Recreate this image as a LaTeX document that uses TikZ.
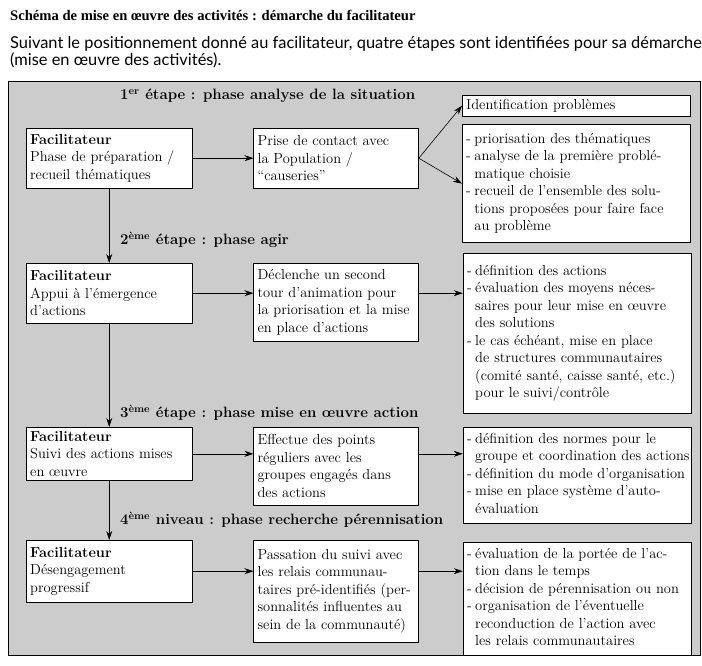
\documentclass[tikz,border=0pt]{standalone}
\usepackage{fontspec}
\newfontfamily\titlefont{Liberation Serif}
\newfontfamily\subfont{Lato}
\usetikzlibrary{positioning,arrows.meta,calc}

\newenvironment{tirets}{\begin{tabular}{@{}l@{\hspace{3.5pt}}l@{}}}{\end{tabular}}
\newcommand{\facil}{\textbf{Facilitateur}\\}

\begin{document}
\begin{tikzpicture}[
    x=1pt, y=1pt,
    every node/.style={font=\fontsize{14.5}{17.5}\selectfont},
    box/.style={rectangle, draw, thin, fill=white, anchor=north west, align=left, inner sep=4pt},
    facbox/.style={box, text width=158pt},
    midbox/.style={box, text width=157pt},
    listbox/.style={box, text width=220pt},
    stephead/.style={anchor=west, inner sep=0pt, font=\fontsize{15}{17}\selectfont\bfseries},
    arrow/.style={-{Stealth[length=9pt,width=6pt]}, semithick}
]
\useasboundingbox (0,0) rectangle (702,-666);

% Title
\node[anchor=base west, inner sep=0pt, font=\titlefont\bfseries\fontsize{14.6}{17}\selectfont] (titre) at (10,-21) {Schéma de mise en œuvre des activités : démarche du facilitateur};
\node[anchor=base west, inner sep=0pt, align=left, font=\subfont\fontsize{16.4}{17}\selectfont] (soustitre) at (10,-66) {Suivant le positionnement donné au facilitateur, quatre étapes sont identifiées pour sa démarche\\(mise en œuvre des activités).};

% Grey panel
\draw[fill=black!20] (8,-81) rectangle (700,-655);

% Facilitateur column
\node[facbox, minimum height=60pt] (fac1) at (26,-128) {\facil Phase de préparation /\\recueil thématiques};
\node[facbox, minimum height=60pt] (fac2) at (26,-263) {\facil Appui à l’émergence\\d’actions};
\node[facbox, minimum height=51pt] (fac3) at (26,-427) {\facil Suivi des actions mises\\en œuvre};
\node[facbox, minimum height=62pt] (fac4) at (26,-540) {\facil Désengagement\\progressif};

% Middle column
\node[midbox, minimum height=60pt, right=61pt of fac1.north east, anchor=north west] (mid1) {Prise de contact avec\\la Population /\\“causeries”};
\node[midbox, minimum height=78pt, right=61pt of fac2.north east, anchor=north west] (mid2) {Déclenche un second\\tour d’animation pour\\la priorisation et la mise\\en place d’actions};
\node[midbox, minimum height=78pt, right=61pt of fac3.north east, anchor=north west] (mid3) {Effectue des points\\réguliers avec les\\groupes engagés dans\\des actions};
\node[midbox, minimum height=102pt, right=61pt of fac4.north east, anchor=north west] (mid4) {Passation du suivi avec\\les relais communau-\\taires pré-identifiés (per-\\sonnalités influentes au\\sein de la communauté)};

% Right column
\node[listbox] (ident) at (462,-95) {Identification problèmes};
\node[listbox, minimum height=118pt, below=8pt of ident.south west, anchor=north west] (list1) {\begin{tirets}
  - & priorisation des thématiques\\
  - & analyse de la première problé-\\
    & matique choisie\\
  - & recueil de l’ensemble des solu-\\
    & tions proposées pour faire face\\
    & au problème
\end{tirets}};
\node[listbox, minimum height=160pt, right=44pt of mid2.north east, anchor=north west, yshift=10pt] (list2) {\begin{tirets}
  - & définition des actions\\
  - & évaluation des moyens néces-\\
    & saires pour leur mise en œuvre\\
    & des solutions\\
  - & le cas échéant, mise en place\\
    & de structures communautaires\\
    & (comité santé, caisse santé, etc.)\\
    & pour le suivi/contrôle
\end{tirets}};
\node[listbox, minimum height=88pt, right=44pt of mid3.north east, anchor=north west] (list3) {\begin{tirets}
  - & définition des normes pour le\\
    & groupe et coordination des actions\\
  - & définition du mode d’organisation\\
  - & mise en place système d’auto-\\
    & évaluation
\end{tirets}};
\node[listbox, minimum height=108pt, right=44pt of mid4.north east, anchor=north west, yshift=-2pt] (list4) {\begin{tirets}
  - & évaluation de la portée de l’ac-\\
    & tion dans le temps\\
  - & décision de pérennisation ou non\\
  - & organisation de l’éventuelle\\
    & reconduction de l’action avec\\
    & les relais communautaires
\end{tirets}};

% Step headings
\node[stephead] (etape1) at (120,-96) {1\textsuperscript{er} étape : phase analyse de la situation};
\node[stephead] (etape2) at (120,-240) {2\textsuperscript{ème} étape : phase agir};
\node[stephead] (etape3) at (120,-413) {3\textsuperscript{ème} étape : phase mise en œuvre action};
\node[stephead] (etape4) at (120,-520) {4\textsuperscript{ème} niveau : phase recherche pérennisation};

% Arrows
\draw[arrow] (fac1) -- (mid1.west |- fac1);
\draw[arrow] (mid1.east) -- (ident.west);
\draw[arrow] (mid1.east) -- (list1.west);
\draw[arrow] (fac2) -- (mid2.west |- fac2);
\draw[arrow] (mid2.east |- fac2) -- (list2.west |- fac2);
\draw[arrow] (fac3) -- (mid3.west |- fac3);
\draw[arrow] (mid3.east |- fac3) -- (list3.west |- fac3);
\draw[arrow] (fac4) -- (mid4.west |- fac4);
\draw[arrow] (mid4.east |- fac4) -- (list4.west |- fac4);

\draw[arrow] (fac1) -- (fac2);
\draw[arrow] (fac2) -- (fac3);
\draw[arrow] (fac3) -- (fac4);

\end{tikzpicture}
\end{document}
